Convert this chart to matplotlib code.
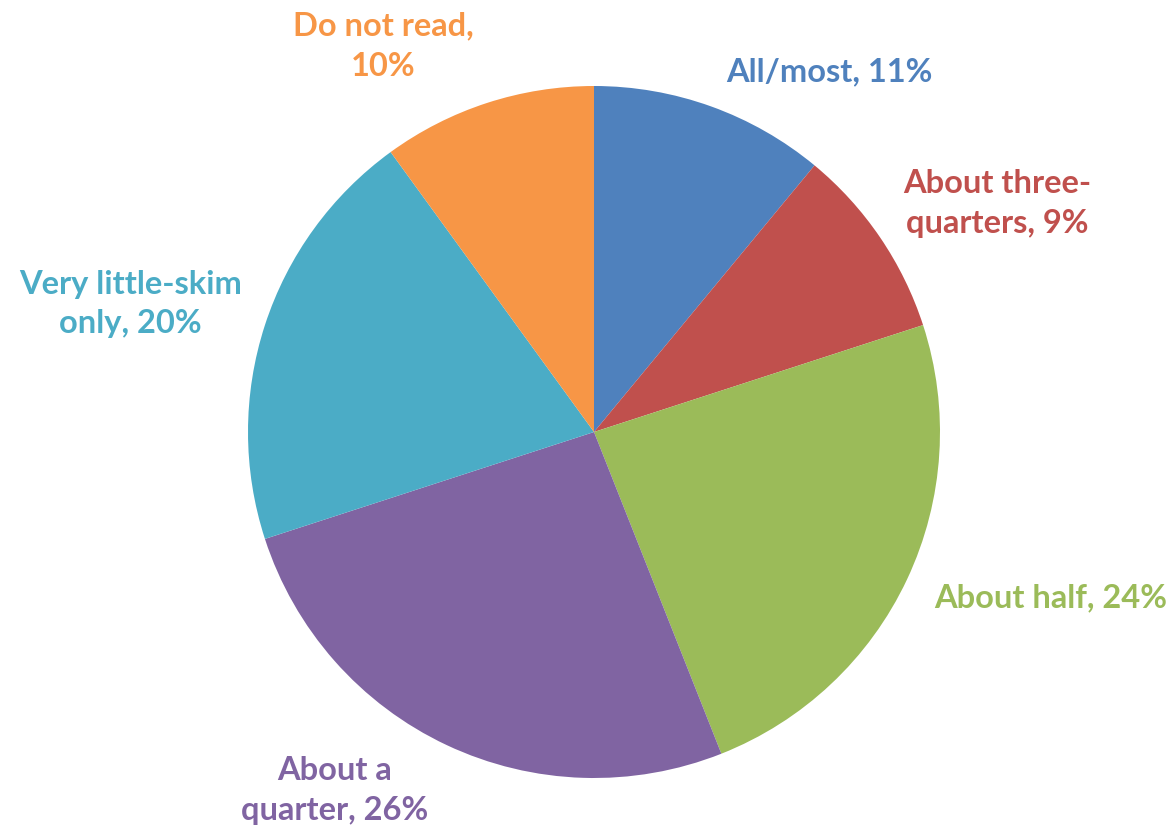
import numpy as np
import matplotlib.pyplot as plt

labels = ['All/most', 'About three-\nquarters', 'About half', 'About a\nquarter',
          'Very little-skim\nonly', 'Do not read,\n']
values = [11, 9, 24, 26, 20, 10]
colors = ['#4F81BD', '#C0504D', '#9BBB59', '#8064A2', '#4BACC6', '#F79646']

# where each label sits, in pie-radius units
label_pos = [(0.68, 1.04), (1.165, 0.66), (1.32, -0.48), (-0.75, -1.035),
             (-1.34, 0.37), (-0.61, 1.115)]

fig = plt.figure(figsize=(11.69, 8.31), dpi=100)
ax = fig.add_axes([0, 0, 1, 1])

wedges, _ = ax.pie(values, colors=colors, startangle=90, counterclock=False,
                   radius=1, wedgeprops=dict(linewidth=0))

for lab, v, c, (x, y) in zip(labels, values, colors, label_pos):
    if lab.endswith('\n'):
        txt = '%s%d%%' % (lab, v)
    else:
        txt = '%s, %d%%' % (lab, v)
    ax.text(x, y, txt, color=c, fontsize=23.5, fontweight='bold', family='Lato',
            ha='center', va='center', linespacing=1.45)

# pie centre at (594, 432) px, radius 346 px
W, H = 1169, 831
cx, cy, r = 594, 432, 346
ax.set_xlim(-cx / r, (W - cx) / r)
ax.set_ylim(-(H - cy) / r, cy / r)
ax.set_aspect('equal')
ax.axis('off')

fig.savefig('out.png', dpi=100, facecolor='white')
